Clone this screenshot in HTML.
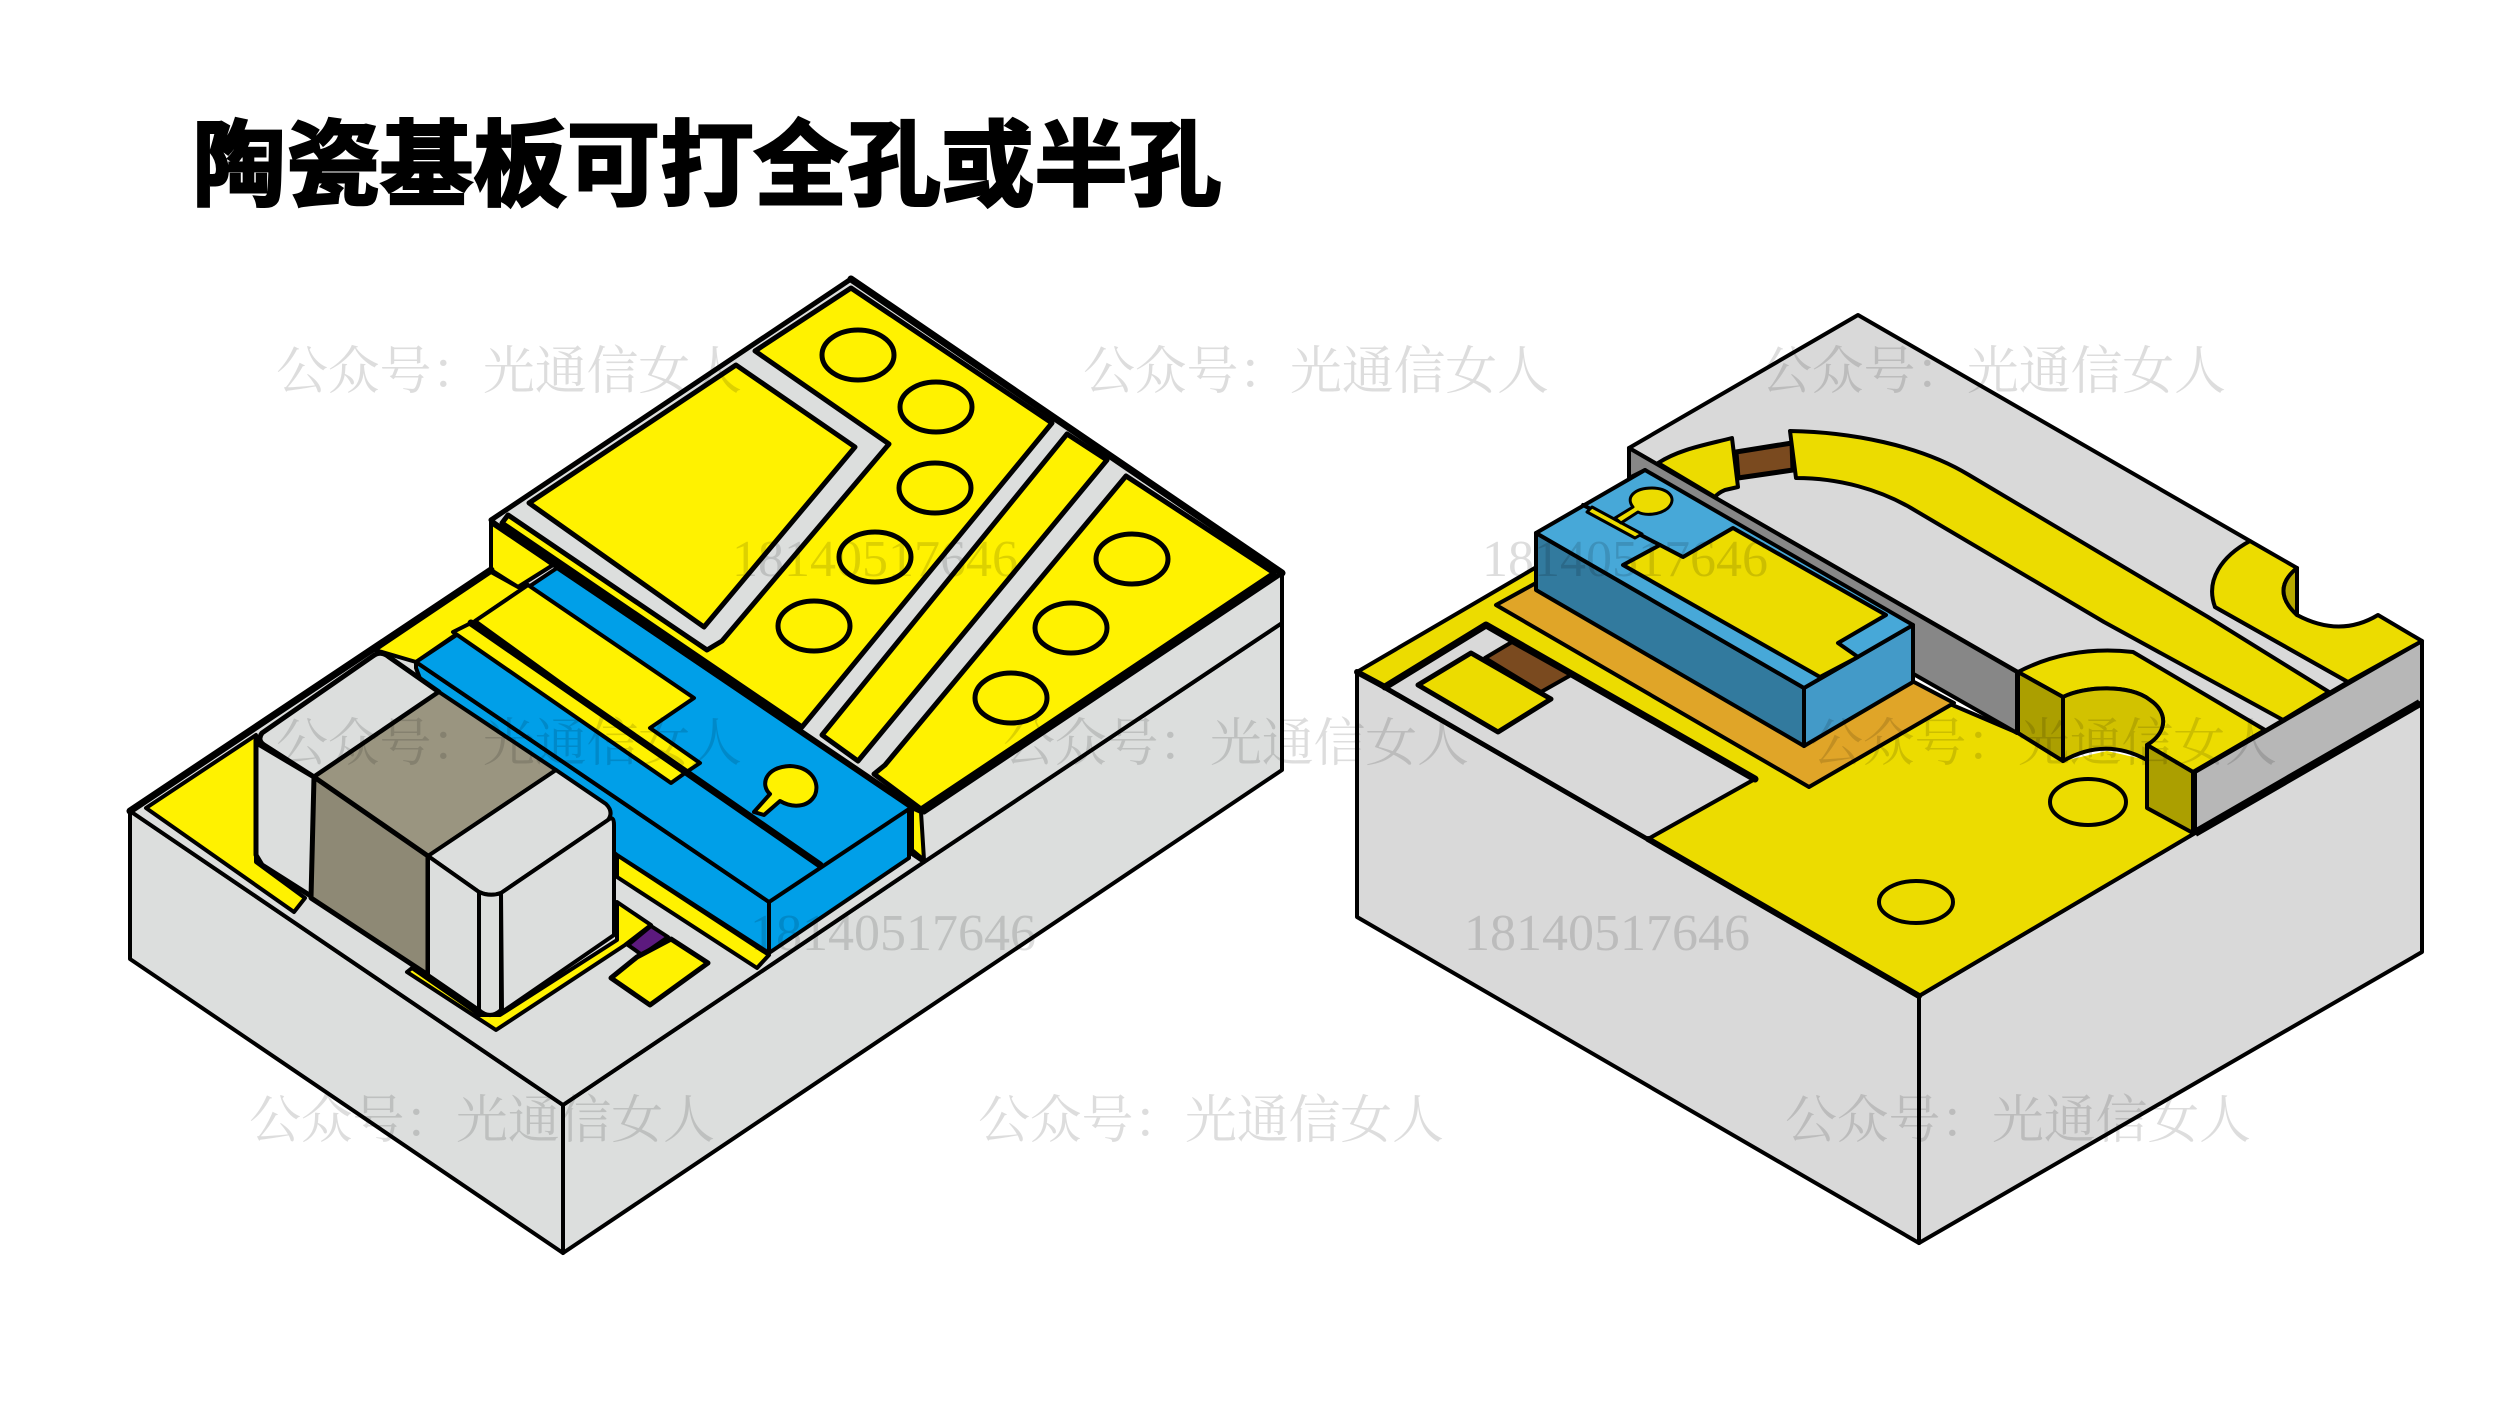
<!DOCTYPE html>
<html><head><meta charset="utf-8">
<style>html,body{margin:0;padding:0;background:#fff}svg{display:block}</style></head>
<body>
<svg xmlns="http://www.w3.org/2000/svg" width="2500" height="1406" viewBox="0 0 2500 1406">
<rect width="2500" height="1406" fill="#fff"/>
<text x="193" y="198" font-family="'Liberation Sans','Noto Sans CJK SC',sans-serif" font-weight="700" font-size="93" fill="#000" stroke="#000" stroke-width="3" textLength="1028" lengthAdjust="spacing">陶瓷基板可打全孔或半孔</text>

<!-- LEFT BLOCK -->
<g stroke="#000" stroke-width="4" stroke-linejoin="round" stroke-linecap="round">
<polygon points="130,811 563,1105 563,1253 130,959" fill="#dcdedd"/>
<polygon points="563,1105 924,862 1282,623 1282,770 563,1253" fill="#dcdedd"/>
<polygon points="130,811 491,570 924,862 563,1105" fill="#dcdedd"/>
<polygon points="491,520 851,279 1282,573 1282,623 924,862 491,570" fill="#dcdedd"/>
<line x1="924" y1="812" x2="1282" y2="573" stroke-width="5"/>
<line x1="491" y1="520" x2="851" y2="279" stroke-width="5"/>
<line x1="851" y1="279" x2="1282" y2="573" stroke-width="7"/>
<!-- upper yellow -->
<polygon points="851,288 1052,423 802,727 502,523 508,515 707,650 722,641 889,444 755,351" fill="#fff200" stroke-width="5"/>
<polygon points="736,365 855,447 704,627 529,503" fill="#fff200" stroke-width="5"/>
<polygon points="1067,434 1107,460 858,761 822,735" fill="#fff200" stroke-width="5"/>
<polygon points="1126,476 1274,573 921,809 874,774 885,765" fill="#fff200" stroke-width="5"/>
<g fill="#fff200" stroke-width="5">
<ellipse cx="858" cy="355" rx="36" ry="25"/>
<ellipse cx="936" cy="407" rx="36" ry="25"/>
<ellipse cx="935" cy="488" rx="36" ry="25"/>
<ellipse cx="875" cy="557" rx="36" ry="25"/>
<ellipse cx="814" cy="626" rx="36" ry="25"/>
<ellipse cx="1132" cy="559" rx="36" ry="25"/>
<ellipse cx="1071" cy="628" rx="36" ry="25"/>
<ellipse cx="1011" cy="698" rx="36" ry="25"/>
</g>
<!-- low yellow -->
<polygon points="491,520 553,565 518,587 491,570" fill="#fff200"/>
<polygon points="491,572 375,650 416,662 528,585 518,587" fill="#fff200"/>
<polygon points="146,808 256,735 256,862 305,898 294,912" fill="#fff200" stroke-width="4"/>
<polygon points="617,855 769,955 757,968 617,877" fill="#fff200"/>
<polygon points="617,902 651,925 625,945 496,1030 407,972 412,968 480,1015 500,1015 617,940" fill="#fff200"/>
<polygon points="651,926 668,937 642,955 628,945" fill="#5c1a7e"/>
<polygon points="671,939 708,963 650,1005 611,978 637,957" fill="#fff200" stroke-width="5"/>
<!-- blue -->
<polygon points="416,662 769,902 769,953 617,855 430,705 416,668" fill="#009fe8"/>
<polygon points="769,902 909,808 909,858 769,953" fill="#009fe8"/>
<polygon points="557,568 912,807 769,902 416,662" fill="#009fe8"/>
<polygon points="528,585 694,698 650,728 700,763 685,773 475,621" fill="#fff200"/>
<polygon points="453,632 471,623 685,773 671,783" fill="#fff200"/>
<line x1="471" y1="623" x2="820" y2="865" stroke-width="7"/>
<line x1="493" y1="523" x2="912" y2="807" stroke-width="6"/>
<path d="M754 812 L770 794 C760 785 765 767 790 766 C812 767 820 783 815 795 C808 808 792 808 780 801 L764 815 Z" fill="#fff200"/>
<polygon points="912,808 921,812 924,860 912,850" fill="#fff200"/>
<line x1="130" y1="811" x2="491" y2="570" stroke-width="7"/>
<!-- capacitor -->
<path d="M373 656 Q381 650 389 657 L439 692 L314 777 L264 745 Q257 740 262 733 Z" fill="#dcdedd" stroke-width="5"/>
<polygon points="439,692 556,770 428,856 314,777" fill="#9a9580"/>
<polygon points="260,745 314,777 314,898 262,865 256,855 256,740" fill="#dcdedd" stroke-width="5"/>
<polygon points="314,777 428,856 428,975 311,898" fill="#8e8975" stroke-width="5"/>
<path d="M556 770 L606 804 Q614 812 608 820 L501 893 Q490 897 479 892 L428 856 Z" fill="#dcdedd"/>
<path d="M428 856 L479 892 L479 1010 L428 975 Z" fill="#dcdedd"/>
<path d="M479 892 Q490 897 501 893 L501 1010 Q490 1020 479 1010 Z" fill="#dcdedd"/>
<path d="M501 893 L608 820 Q614 815 614 825 L614 935 L502 1012 Z" fill="#dcdedd"/>
</g>

<!-- RIGHT BLOCK -->
<g stroke="#000" stroke-width="4" stroke-linejoin="round" stroke-linecap="round">
<polygon points="1357,672 1919,996 1919,1243 1357,917" fill="#d9d9d9"/>
<polygon points="1919,996 2195,833 2422,702 2422,952 1919,1243" fill="#d9d9d9"/>
<!-- floor -->
<polygon points="1357,672 1540,565 1800,640 2018,733 2195,833 1919,996" fill="#ecdc00"/>
<polygon points="1385,687 1486,625 1755,779 1648,839" fill="#d9d9d9"/>
<polyline points="1385,687 1486,625 1755,779" fill="none" stroke-width="7"/>
<line x1="1648" y1="839" x2="1919" y2="996" stroke-width="6"/>
<line x1="1357" y1="672" x2="1385" y2="687" stroke-width="6"/>
<polygon points="1512,642 1571,675 1541,692 1485,658" fill="#7a4a1f"/>
<polygon points="1471,653 1551,699 1498,732 1418,685" fill="#ecdc00" stroke-width="5"/>
<polygon points="1496,605 1536,583 1914,682 1954,703 1809,787" fill="#e0a528"/>
<!-- top level -->
<polygon points="1858,315 2250,541 2215,607 2348,682 2195,772 2018,672 1629,448" fill="#d9d9d9"/>
<polygon points="2195,772 2422,641 2422,702 2195,833" fill="#b7b7b7"/>
<line x1="2195" y1="833" x2="2420" y2="703" stroke-width="8" stroke-linecap="butt"/>
<polygon points="1629,448 2017,672 2017,733 1910,672 1645,470 1629,478" fill="#878787"/>
<!-- U trace -->
<path d="M1658 463 C1680 449 1705 445 1732 438 L1738 487 L1725 490 Q1718 493 1715 497 Z" fill="#ecdc00"/>
<polygon points="1736,452 1792,443 1793,470 1738,478" fill="#7a4a1f" stroke-width="5"/>
<path d="M1790 431 C1850 432 1920 445 1969 475 L2154 585 L2208 617 L2329 692 L2283 720 L2104 622 L1911 508 C1880 490 1840 478 1796 478 Z" fill="#ecdc00"/>
<!-- right corner -->
<path d="M2250 541 L2297 568 Q2270 590 2297 615 Q2340 638 2378 615 L2422 641 L2348 682 L2215 607 C2205 580 2222 556 2250 541 Z" fill="#ecdc00"/>
<path d="M2297 568 Q2270 590 2297 615 Z" fill="#b5a800"/>
<!-- half hole -->
<polygon points="2018,733 2063,761 2107,751 2147,760 2195,833 2100,800" fill="#ecdc00" stroke="none"/>
<path d="M2018 672 Q2070 645 2133 652 L2265 730 L2193 772 L2147 745 C2168 732 2168 712 2150 700 C2130 684 2085 686 2063 697 Z" fill="#ecdc00"/>
<path d="M2063 697 C2085 686 2130 684 2150 700 C2168 712 2168 732 2147 745 L2147 760 Q2105 737 2063 761 Z" fill="#d2c200"/>
<polygon points="2018,672 2063,697 2063,761 2018,733" fill="#ab9f00"/>
<polygon points="2147,745 2193,772 2193,833 2147,808" fill="#ab9f00"/>
<ellipse cx="2088" cy="802" rx="38" ry="23" fill="#ecdc00"/>
<ellipse cx="1916" cy="902" rx="37" ry="21" fill="#ecdc00"/>
<!-- chip -->
<polygon points="1536,533 1804,688 1804,746 1536,590" fill="#327a9e"/>
<polygon points="1804,688 1913,625 1913,682 1804,746" fill="#439ac8"/>
<polygon points="1536,533 1645,470 1913,625 1804,688" fill="#47a8d8"/>
<polygon points="1660,545 1683,557 1733,528 1886,615 1838,643 1858,657 1820,677 1623,565" fill="#ecdc00"/>
<line x1="1583" y1="505" x2="1660" y2="545" stroke-width="4"/>
<polygon points="1592,507 1642,534 1635,538 1587,512" fill="#ecdc00" stroke-width="3"/>
<path d="M1615 518 L1633 507 C1625 497 1635 488 1652 488 C1668 488 1678 498 1668 508 C1660 515 1645 516 1638 512 L1621 523 Z" fill="#ecdc00" stroke-width="3"/>
</g>

<!-- WATERMARKS -->
<g font-family="'Liberation Serif','Noto Serif CJK SC',serif" font-size="52" fill="#000" opacity="0.13">
<text x="276" y="389" textLength="466">公众号：光通信女人</text>
<text x="1083" y="389" textLength="466">公众号：光通信女人</text>
<text x="1760" y="389" textLength="466">公众号：光通信女人</text>
<text x="276" y="761" textLength="466">公众号：光通信女人</text>
<text x="1003" y="761" textLength="466">公众号：光通信女人</text>
<text x="1811" y="761" textLength="466">公众号：光通信女人</text>
<text x="249" y="1138" textLength="466">公众号：光通信女人</text>
<text x="978" y="1138" textLength="466">公众号：光通信女人</text>
<text x="1785" y="1138" textLength="466">公众号：光通信女人</text>
<text x="732" y="576">18140517646</text>
<text x="1482" y="576">18140517646</text>
<text x="750" y="950">18140517646</text>
<text x="1464" y="950">18140517646</text>
</g>
</svg>
</body></html>
